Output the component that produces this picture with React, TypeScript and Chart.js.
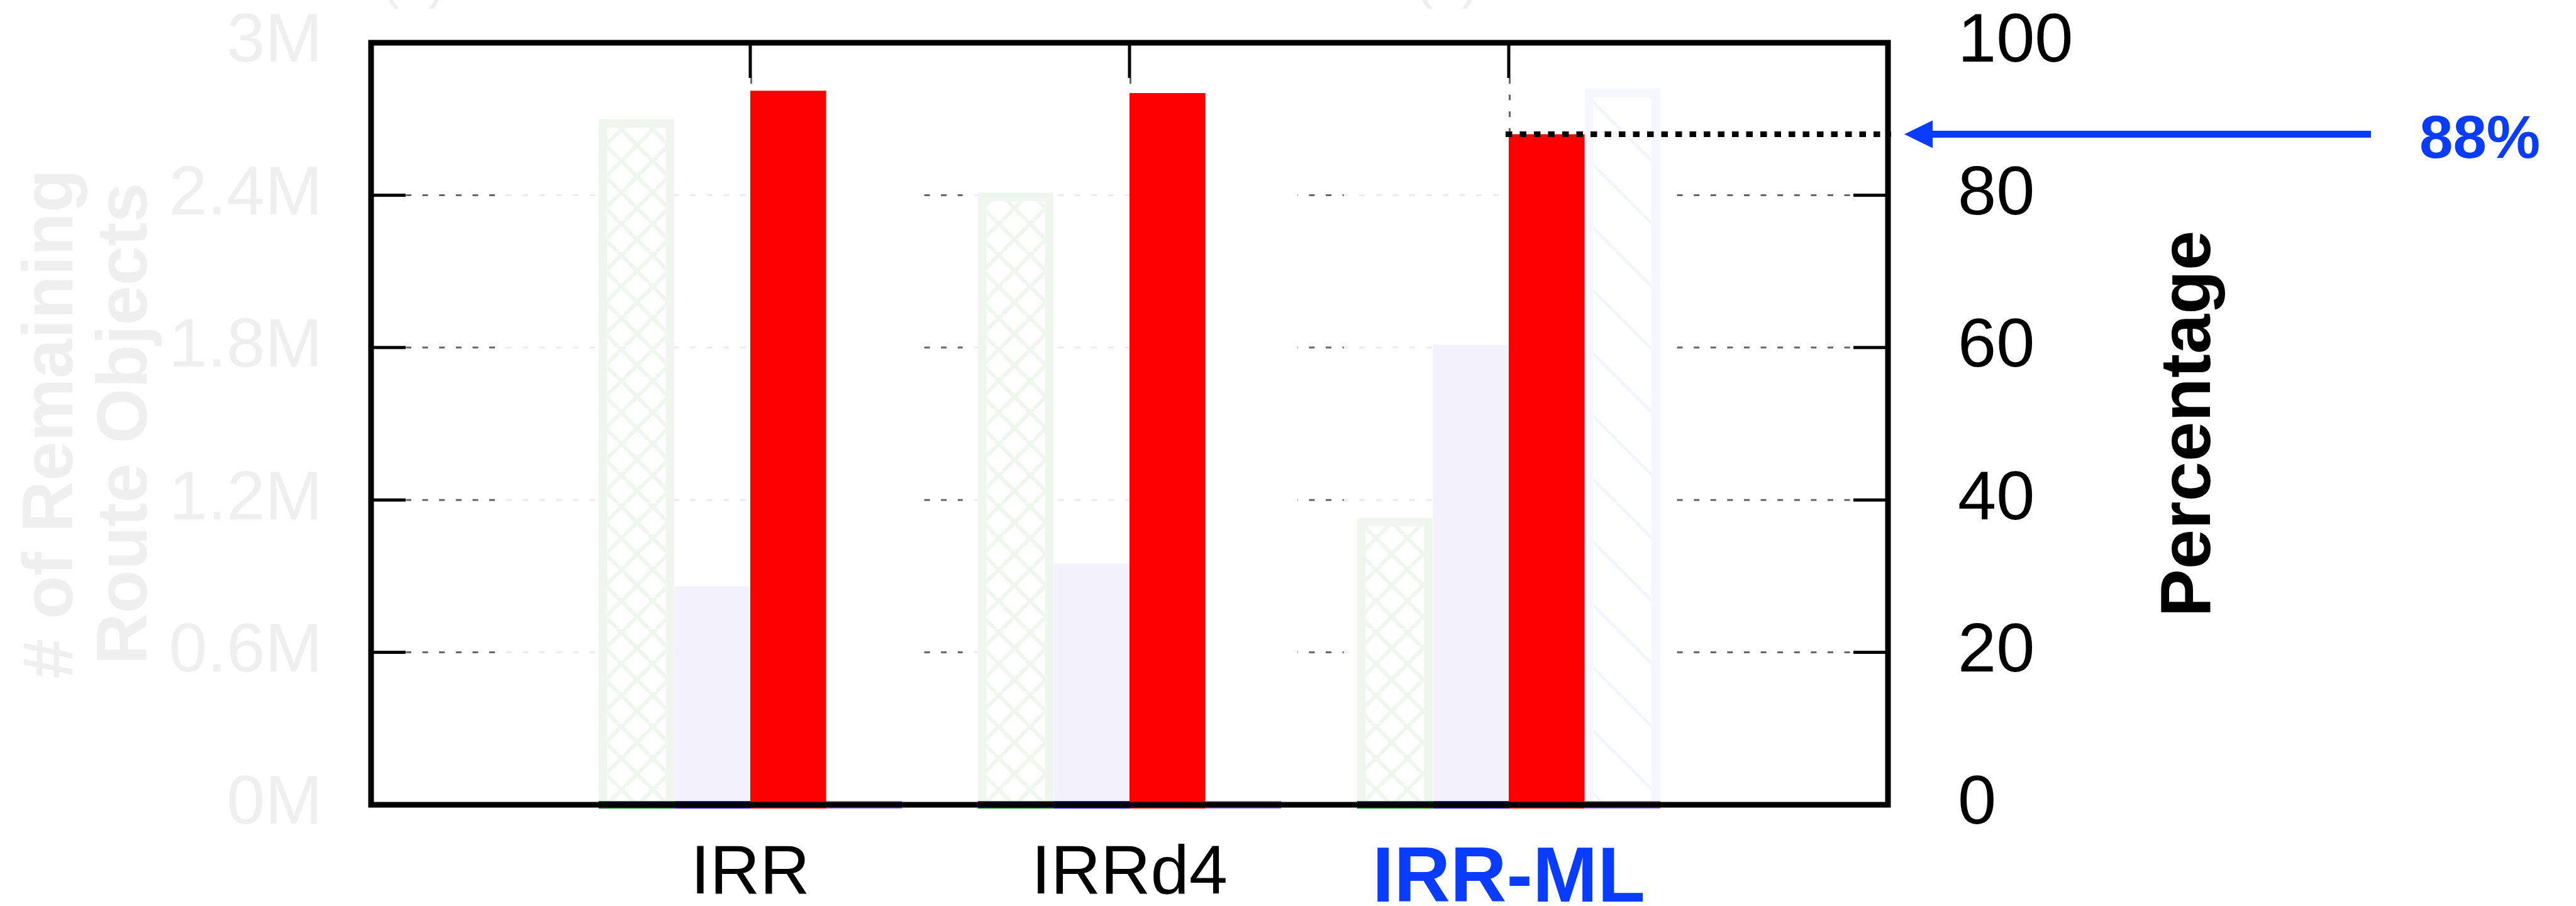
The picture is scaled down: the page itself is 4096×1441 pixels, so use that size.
import React, { useEffect, useRef } from 'react';
import { Chart, registerables } from 'chart.js';

Chart.register(...registerables);

// ---------------- data ----------------
const categories = ['IRR', 'IRRd4', 'IRR-ML'];
const remainingObjectsM = [2.7, 2.41, 1.13]; // green cross-hatched bars, left axis (millions)
const secondSeriesM = [0.86, 0.95, 1.81]; // lavender bars, left axis (millions)
const redPercent = [93.7, 93.4, 88]; // red bars, right axis (%)
const fourthPercent = [0, 0, 94.0]; // diagonal-hatched bars, right axis (%)
const leftTickLabels = ['0M', '0.6M', '1.2M', '1.8M', '2.4M', '3M'];
const rightTickLabels = ['0', '20', '40', '60', '80', '100'];
const leftTitle = ['# of Remaining', 'Route Objects'];
const rightTitle = 'Percentage';
const panelLabels = ['(a)', '(b)'];
const highlightIndex = 2; // IRR-ML

// ---------------- styles ----------------
const FONT = "'Liberation Sans', Arial, Helvetica, sans-serif";
const FADED = '#efefef';
const BLUE = '#0a3cff';
const EDGE_COLORS = ['#007c00', '#2415dd', '#ff0000', '#9b6cf2'];
const DARK_SEGS: number[][] = [
  [0.092, 0.356],
  [1.456, 1.56],
  [2.443, 2.565],
  [3.443, 3.91],
];
const LIGHT_SEGS: number[][] = [
  [0.356, 1.0],
  [1.56, 2.0],
  [2.565, 3.0],
];
const TICK_LEN = 55;
const DASH = [9, 17.6];
const PERIOD = 26.6;

function crossHatch(): CanvasPattern {
  const c = document.createElement('canvas');
  c.width = 50;
  c.height = 50;
  const g = c.getContext('2d')!;
  g.fillStyle = '#ffffff';
  g.fillRect(0, 0, 50, 50);
  g.strokeStyle = '#eef6ee';
  g.lineWidth = 6;
  for (let k = -2; k <= 2; k++) {
    const o = 32 + 50 * k;
    g.beginPath();
    g.moveTo(o, 0);
    g.lineTo(o + 50, 50);
    g.stroke();
    const p = 44 + 50 * k;
    g.beginPath();
    g.moveTo(p, 0);
    g.lineTo(p - 50, 50);
    g.stroke();
  }
  return g.createPattern(c, 'repeat')!;
}

function diagHatch(): CanvasPattern {
  const c = document.createElement('canvas');
  c.width = 100;
  c.height = 100;
  const g = c.getContext('2d')!;
  g.fillStyle = '#ffffff';
  g.fillRect(0, 0, 100, 100);
  g.strokeStyle = '#f4f4ff';
  g.lineWidth = 5;
  for (let k = -2; k <= 1; k++) {
    const o = 71 + 100 * k;
    g.beginPath();
    g.moveTo(o, 0);
    g.lineTo(o + 100, 100);
    g.stroke();
  }
  return g.createPattern(c, 'repeat')!;
}

function hDash(ctx: CanvasRenderingContext2D, x0: number, x1: number, y: number, color: string, base: number) {
  if (x1 <= x0) return;
  ctx.save();
  ctx.strokeStyle = color;
  ctx.lineWidth = 3;
  ctx.setLineDash(DASH);
  ctx.lineDashOffset = (((x0 - base) % PERIOD) + PERIOD) % PERIOD;
  ctx.beginPath();
  ctx.moveTo(x0, y);
  ctx.lineTo(x1, y);
  ctx.stroke();
  ctx.restore();
}

const noPad = (s: any) => {
  s.paddingTop = 0;
  s.paddingBottom = 0;
  s.paddingLeft = 0;
  s.paddingRight = 0;
};

const decorPlugin = {
  id: 'figureDecor',
  beforeDatasetsDraw(chart: any) {
    const { ctx, chartArea: a, scales } = chart;
    const xs = scales.x;
    const yl = scales.yL;
    const n = chart.data.labels.length - 1;
    const X = (u: number) => xs.getPixelForDecimal(u / n);
    const base = a.left + TICK_LEN;
    const gridVals = yl.ticks.map((t: any) => t.value).filter((v: number) => v > yl.min && v < yl.max);
    for (const v of gridVals) {
      const y = yl.getPixelForValue(v);
      for (const [u0, u1] of LIGHT_SEGS) hDash(ctx, X(u0), X(u1), y, '#ececec', base);
      for (const [u0, u1] of DARK_SEGS) hDash(ctx, X(u0), X(u1), y, '#666666', base);
    }
    // vertical dashed grid at category centres
    ctx.save();
    ctx.strokeStyle = '#666666';
    ctx.lineWidth = 3;
    ctx.setLineDash(DASH);
    for (let i = 1; i <= categories.length; i++) {
      const x = xs.getPixelForValue(i) + 1.5;
      ctx.beginPath();
      ctx.moveTo(x, a.top + 56);
      ctx.lineTo(x, a.bottom);
      ctx.stroke();
    }
    ctx.restore();
  },
  afterDatasetsDraw(chart: any) {
    const { ctx, chartArea: a, scales } = chart;
    const xs = scales.x;
    const yl = scales.yL;
    const yr = scales.yR;
    const zero = yl.getPixelForValue(0);
    ctx.save();
    // coloured bar baselines
    chart.data.datasets.forEach((ds: any, di: number) => {
      const meta = chart.getDatasetMeta(di);
      meta.data.forEach((el: any, j: number) => {
        if (ds.data[j] === null || ds.data[j] === undefined) return;
        ctx.fillStyle = EDGE_COLORS[di];
        ctx.fillRect(el.x - el.width / 2, zero - 6, el.width, 12);
      });
    });
    // dotted 88% reference line
    const redEl: any = chart.getDatasetMeta(2).data[highlightIndex + 1];
    const yH = yr.getPixelForValue(redPercent[highlightIndex]);
    ctx.strokeStyle = '#000';
    ctx.lineWidth = 9;
    ctx.lineCap = 'butt';
    ctx.setLineDash([10.5, 12]);
    ctx.beginPath();
    ctx.moveTo(redEl.x - redEl.width / 2 - 5, yH);
    ctx.lineTo(a.right + 5, yH);
    ctx.stroke();
    ctx.setLineDash([]);
    // frame
    ctx.lineWidth = 9;
    ctx.strokeRect(a.left, a.top, a.right - a.left, a.bottom - a.top);
    // tick marks
    ctx.lineWidth = 5;
    const gridVals = yl.ticks.map((t: any) => t.value).filter((v: number) => v > yl.min && v < yl.max);
    for (const v of gridVals) {
      const y = yl.getPixelForValue(v);
      ctx.beginPath();
      ctx.moveTo(a.left, y);
      ctx.lineTo(a.left + TICK_LEN, y);
      ctx.moveTo(a.right - TICK_LEN, y);
      ctx.lineTo(a.right, y);
      ctx.stroke();
    }
    for (let i = 1; i <= categories.length; i++) {
      const x = xs.getPixelForValue(i);
      ctx.beginPath();
      ctx.moveTo(x, a.top);
      ctx.lineTo(x, a.top + 56);
      ctx.stroke();
    }
    // blue arrow + label
    const tip = a.right + 26;
    const back = a.right + 71;
    const end = a.right + 768;
    ctx.fillStyle = BLUE;
    ctx.beginPath();
    ctx.moveTo(tip, yH);
    ctx.lineTo(back, yH - 22);
    ctx.lineTo(back, yH + 22);
    ctx.closePath();
    ctx.fill();
    ctx.fillRect(back - 1, yH - 5.5, end - back + 1, 11);
    ctx.font = `bold 96px ${FONT}`;
    ctx.textAlign = 'left';
    ctx.textBaseline = 'alphabetic';
    ctx.fillText(`${Math.round(redPercent[highlightIndex])}%`, a.right + 845, yH + 38);
    // axis titles
    const midY = (a.top + a.bottom) / 2;
    ctx.textAlign = 'center';
    ctx.fillStyle = FADED;
    ctx.font = `bold 113px ${FONT}`;
    const lx = [a.left - 475, a.left - 357];
    leftTitle.forEach((t, i) => {
      ctx.save();
      ctx.translate(lx[i], midY);
      ctx.rotate(-Math.PI / 2);
      ctx.fillText(t, 0, 0);
      ctx.restore();
    });
    ctx.fillStyle = '#000';
    ctx.font = `bold 114px ${FONT}`;
    ctx.save();
    ctx.translate(a.right + 512, midY);
    ctx.rotate(-Math.PI / 2);
    ctx.fillText(rightTitle, 0, 0);
    ctx.restore();
    // faded panel labels (cut off at top)
    ctx.fillStyle = '#eeeeee';
    ctx.font = `82px ${FONT}`;
    ctx.fillText(panelLabels[0], a.left + 68, -3);
    ctx.fillText(panelLabels[1], a.left + 1711, -3);
    ctx.restore();
  },
};

export default function App() {
  const ref = useRef<HTMLCanvasElement | null>(null);
  useEffect(() => {
    document.body.style.margin = '0';
    const canvas = ref.current!;
    const labels = ['', ...categories, ''];
    const pad = (arr: number[]) => [null, ...arr, null];
    const chart = new Chart(canvas, {
      type: 'bar',
      data: {
        labels,
        datasets: [
          {
            data: pad(remainingObjectsM) as any,
            yAxisID: 'yL',
            backgroundColor: crossHatch(),
            borderColor: '#eef6ee',
            borderWidth: 14,
          },
          {
            data: pad(secondSeriesM) as any,
            yAxisID: 'yL',
            backgroundColor: '#f3f2fc',
            borderWidth: 0,
          },
          {
            data: pad(redPercent) as any,
            yAxisID: 'yR',
            backgroundColor: '#ff0000',
            borderWidth: 0,
          },
          {
            data: pad(fourthPercent) as any,
            yAxisID: 'yR',
            backgroundColor: diagHatch(),
            borderColor: '#f6f6ff',
            borderWidth: 14,
          },
        ],
      },
      options: {
        responsive: false,
        maintainAspectRatio: false,
        devicePixelRatio: 1,
        animation: false,
        layout: { padding: { top: 68, left: 0, right: 0, bottom: 0 } },
        datasets: { bar: { categoryPercentage: 0.8, barPercentage: 1 } },
        plugins: { legend: { display: false }, tooltip: { enabled: false } },
        scales: {
          x: {
            type: 'category',
            offset: false,
            grid: { display: false, drawTicks: false },
            border: { display: false },
            ticks: {
              autoSkip: false,
              maxRotation: 0,
              minRotation: 0,
              padding: 45,
              color: (c: any) => (c.index === highlightIndex + 1 ? BLUE : '#000000'),
              font: (c: any) =>
                c.index === highlightIndex + 1
                  ? { family: FONT, size: 124, weight: 'bold' }
                  : { family: FONT, size: 110, weight: 'normal' },
            },
            afterFit: (s: any) => {
              s.height = 161;
              noPad(s);
            },
          },
          yL: {
            type: 'linear',
            position: 'left',
            min: 0,
            max: 3,
            grid: { display: false, drawTicks: false },
            border: { display: false },
            ticks: {
              stepSize: 0.6,
              autoSkip: false,
              padding: 77,
              color: FADED,
              font: { family: FONT, size: 110 },
              callback: (_v: any, i: number) => leftTickLabels[i],
            },
            afterFit: (s: any) => {
              s.width = 590;
              noPad(s);
            },
          },
          yR: {
            type: 'linear',
            position: 'right',
            min: 0,
            max: 100,
            grid: { display: false, drawTicks: false },
            border: { display: false },
            ticks: {
              stepSize: 20,
              autoSkip: false,
              padding: 111,
              color: '#000000',
              font: { family: FONT, size: 110 },
              callback: (_v: any, i: number) => rightTickLabels[i],
            },
            afterFit: (s: any) => {
              s.width = 1094;
              noPad(s);
            },
          },
        },
      } as any,
      plugins: [decorPlugin],
    });
    return () => chart.destroy();
  }, []);
  return (
    <div style={{ width: 4096, height: 1441, background: '#ffffff' }}>
      <canvas ref={ref} width={4096} height={1441} style={{ display: 'block', width: 4096, height: 1441 }} />
    </div>
  );
}
